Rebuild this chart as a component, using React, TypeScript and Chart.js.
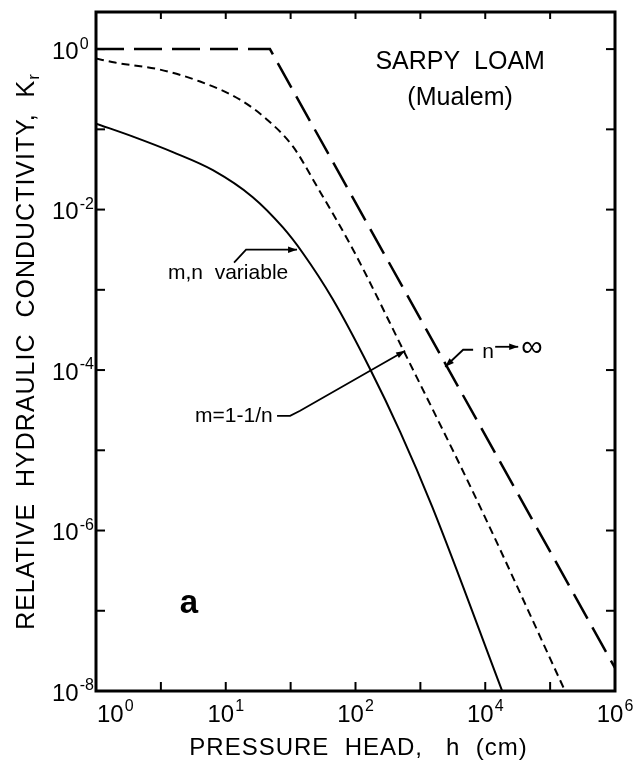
import React, { useEffect, useRef } from "react";
import { Chart, registerables } from "chart.js";

Chart.register(...registerables);

// Pressure head h (cm) and relative hydraulic conductivity Kr, Sarpy loam (Mualem model)

// m, n variable
const H_VARIABLE = [0.01, 0.0372, 0.153, 0.634, 2.61, 7.55, 15.3, 44.2, 164, 488, 1525, 18620];
const K_VARIABLE = [0.1178, 0.0811, 0.052, 0.0310, 0.01428, 0.00603, 0.0029, 7.74e-4, 1.07e-4, 1.7e-5, 1.97e-6, 9.55e-9];

// m = 1 - 1/n
const H_RESTRICTED = [0.01, 0.0196, 0.097, 0.402, 1.66, 4.34, 10.9, 25.6, 91.8, 542, 8337, 169800];
const K_RESTRICTED = [0.762, 0.679, 0.555, 0.394, 0.2344, 0.1321, 0.0608, 0.01928, 3.16e-3, 1.79e-4, 1.97e-6, 1.0e-8];

// n -> infinity
const H_LIMIT = [0.01, 4.8, 1e6];
const K_LIMIT = [1, 1, 1.94e-8];

// axis ranges and labelled ticks (printed exponents)
const X_MIN = 1e-2;
const X_MAX = 1e6;
const Y_MIN = 1e-8;
const Y_MAX = 2.9;
const X_LABEL_VALUES = [1e-2, 1, 1e2, 1e4, 1e6];
const X_LABEL_EXPONENTS = ["0", "1", "2", "4", "6"];
const Y_LABEL_VALUES = [1, 1e-2, 1e-4, 1e-6, 1e-8];
const Y_LABEL_EXPONENTS = ["0", "-2", "-4", "-6", "-8"];

const X_TITLE = "PRESSURE  HEAD,   h  (cm)";
const Y_TITLE = "RELATIVE  HYDRAULIC  CONDUCTIVITY,  K";
const Y_TITLE_SUB = "r";
const HEADING = "SARPY  LOAM";
const SUBHEADING = "(Mualem)";
const PANEL = "a";
const LABEL_VARIABLE = "m,n  variable";
const LABEL_RESTRICTED = "m=1-1/n";
const LABEL_LIMIT_N = "n";
const LABEL_LIMIT_INF = "\u221E";

const FAMILY = "'Liberation Sans', Arial, sans-serif";

function pairs(xs: number[], ys: number[]) {
  return xs.map((x, i) => ({ x, y: ys[i] }));
}

function arrowHead(ctx: CanvasRenderingContext2D, fx: number, fy: number, tx: number, ty: number, len = 9, half = 3.2) {
  const ang = Math.atan2(ty - fy, tx - fx);
  ctx.beginPath();
  ctx.moveTo(tx, ty);
  ctx.lineTo(tx - len * Math.cos(ang) + half * Math.sin(ang), ty - len * Math.sin(ang) - half * Math.cos(ang));
  ctx.lineTo(tx - len * Math.cos(ang) - half * Math.sin(ang), ty - len * Math.sin(ang) + half * Math.cos(ang));
  ctx.closePath();
  ctx.fill();
}

const decorations = {
  id: "decorations",
  afterDatasetsDraw(chart: any) {
    const { ctx, chartArea: a, scales } = chart;
    const xs = scales.x;
    const ys = scales.y;
    // position from log10 coordinates
    const P = (lh: number, lk: number) => [xs.getPixelForValue(Math.pow(10, lh)), ys.getPixelForValue(Math.pow(10, lk))];

    ctx.save();
    ctx.strokeStyle = "#000";
    ctx.fillStyle = "#000";

    // frame
    ctx.lineWidth = 3;
    ctx.strokeRect(a.left, a.top, a.right - a.left, a.bottom - a.top);

    // inward decade ticks on all four sides
    ctx.lineWidth = 2;
    const seg = (x1: number, y1: number, x2: number, y2: number) => {
      ctx.beginPath();
      ctx.moveTo(x1, y1);
      ctx.lineTo(x2, y2);
      ctx.stroke();
    };
    for (let e = Math.log10(X_MIN) + 1; e < Math.log10(X_MAX); e++) {
      const x = xs.getPixelForValue(Math.pow(10, e));
      seg(x, a.bottom, x, a.bottom - 9);
      seg(x, a.top, x, a.top + 7);
    }
    for (let e = Math.log10(Y_MIN) + 1; e <= 0; e++) {
      const y = ys.getPixelForValue(Math.pow(10, e));
      seg(a.left, y, a.left + 9, y);
      seg(a.right, y, a.right - 9, y);
    }

    // power-of-ten tick labels
    const BASE = `24px ${FAMILY}`;
    const SUP = `16px ${FAMILY}`;
    ctx.textBaseline = "middle";
    ctx.textAlign = "left";
    const power = (x: number, y: number, exp: string, align: string) => {
      ctx.font = BASE;
      const wb = ctx.measureText("10").width;
      ctx.font = SUP;
      const we = ctx.measureText(exp).width;
      const total = wb + 1 + we;
      const x0 = align === "left" ? x : x - total / 2;
      ctx.font = BASE;
      ctx.fillText("10", x0, y);
      ctx.font = SUP;
      ctx.fillText(exp, x0 + wb + 1, y - 8);
    };
    X_LABEL_VALUES.forEach((v, i) => {
      const x = xs.getPixelForValue(v);
      power(i === 0 ? x + 1 : x, a.bottom + 24, X_LABEL_EXPONENTS[i], i === 0 ? "left" : "center");
    });
    Y_LABEL_VALUES.forEach((v, i) => {
      const y = ys.getPixelForValue(v);
      power(a.left - 44, y + 3, Y_LABEL_EXPONENTS[i], "left");
    });

    // axis titles
    (ctx as any).letterSpacing = "1px";
    ctx.font = `24px ${FAMILY}`;
    ctx.textAlign = "center";
    ctx.fillText(X_TITLE, (a.left + a.right) / 2 + 3, a.bottom + 57);

    ctx.save();
    ctx.translate(27, (a.top + a.bottom) / 2);
    ctx.rotate(-Math.PI / 2);
    ctx.font = `25px ${FAMILY}`;
    const wMain = ctx.measureText(Y_TITLE).width;
    ctx.font = `17px ${FAMILY}`;
    const wSub = ctx.measureText(Y_TITLE_SUB).width;
    const start = -(wMain + wSub) / 2;
    ctx.textAlign = "left";
    ctx.font = `25px ${FAMILY}`;
    ctx.fillText(Y_TITLE, start, 0);
    ctx.font = `17px ${FAMILY}`;
    ctx.fillText(Y_TITLE_SUB, start + wMain, 7);
    ctx.restore();
    (ctx as any).letterSpacing = "0px";

    // heading
    ctx.textAlign = "center";
    ctx.font = `25px ${FAMILY}`;
    let p = P(3.613, -0.156);
    ctx.fillText(HEADING, p[0], p[1]);
    p = P(3.613, -0.617);
    ctx.fillText(SUBHEADING, p[0], p[1]);

    // panel letter
    ctx.font = `bold 33px ${FAMILY}`;
    p = P(-0.566, -6.915);
    ctx.fillText(PANEL, p[0], p[1]);

    // curve labels with leaders
    ctx.textAlign = "left";
    ctx.font = `21px ${FAMILY}`;
    ctx.lineWidth = 1.8;
    const leader = (pts: number[][]) => {
      const px = pts.map((q) => P(q[0], q[1]));
      ctx.beginPath();
      ctx.moveTo(px[0][0], px[0][1]);
      for (let i = 1; i < px.length; i++) ctx.lineTo(px[i][0], px[i][1]);
      ctx.stroke();
      const n = px.length;
      arrowHead(ctx, px[n - 2][0], px[n - 2][1], px[n - 1][0], px[n - 1][1]);
    };

    p = P(-0.89, -2.787);
    ctx.fillText(LABEL_VARIABLE, p[0], p[1]);
    leader([[0.128, -2.662], [0.313, -2.5], [1.099, -2.5]]);

    p = P(-0.473, -4.57);
    ctx.fillText(LABEL_RESTRICTED, p[0], p[1]);
    leader([[0.791, -4.57], [0.992, -4.57], [1.146, -4.508], [2.765, -3.76]]);

    p = P(3.952, -3.772);
    ctx.fillText(LABEL_LIMIT_N, p[0], p[1]);
    leader([[3.813, -3.747], [3.659, -3.747], [3.382, -3.959]]);
    leader([[4.153, -3.71], [4.508, -3.71]]);
    ctx.font = `30px ${FAMILY}`;
    p = P(4.554, -3.71);
    ctx.fillText(LABEL_LIMIT_INF, p[0], p[1] + 1);

    ctx.restore();
  },
};

export default function App() {
  const ref = useRef<HTMLCanvasElement | null>(null);

  useEffect(() => {
    if (!ref.current) return;
    const chart = new Chart(ref.current, {
      type: "line",
      data: {
        datasets: [
          {
            label: "m,n variable",
            data: pairs(H_VARIABLE, K_VARIABLE),
            borderColor: "#000",
            borderWidth: 2,
            cubicInterpolationMode: "monotone",
            pointRadius: 0,
          },
          {
            label: "m=1-1/n",
            data: pairs(H_RESTRICTED, K_RESTRICTED),
            borderColor: "#000",
            borderWidth: 2,
            borderDash: [8, 5],
            cubicInterpolationMode: "monotone",
            pointRadius: 0,
          },
          {
            label: "n\u2192\u221E",
            data: pairs(H_LIMIT, K_LIMIT),
            borderColor: "#000",
            borderWidth: 2.5,
            borderDash: [28, 10],
            tension: 0,
            pointRadius: 0,
          },
        ],
      },
      options: {
        animation: false,
        responsive: false,
        devicePixelRatio: 1,
        layout: { padding: { left: 96, right: 18, top: 12, bottom: 80 } },
        plugins: {
          legend: { display: false },
          tooltip: { enabled: false },
        },
        scales: {
          x: { type: "logarithmic", min: X_MIN, max: X_MAX, display: false },
          y: { type: "logarithmic", min: Y_MIN, max: Y_MAX, display: false },
        },
      },
      plugins: [decorations],
    } as any);
    return () => chart.destroy();
  }, []);

  return (
    <div style={{ position: "absolute", left: 0, top: 0, width: 633, height: 771, background: "#fff" }}>
      <canvas ref={ref} width={633} height={771} style={{ display: "block" }} />
    </div>
  );
}
